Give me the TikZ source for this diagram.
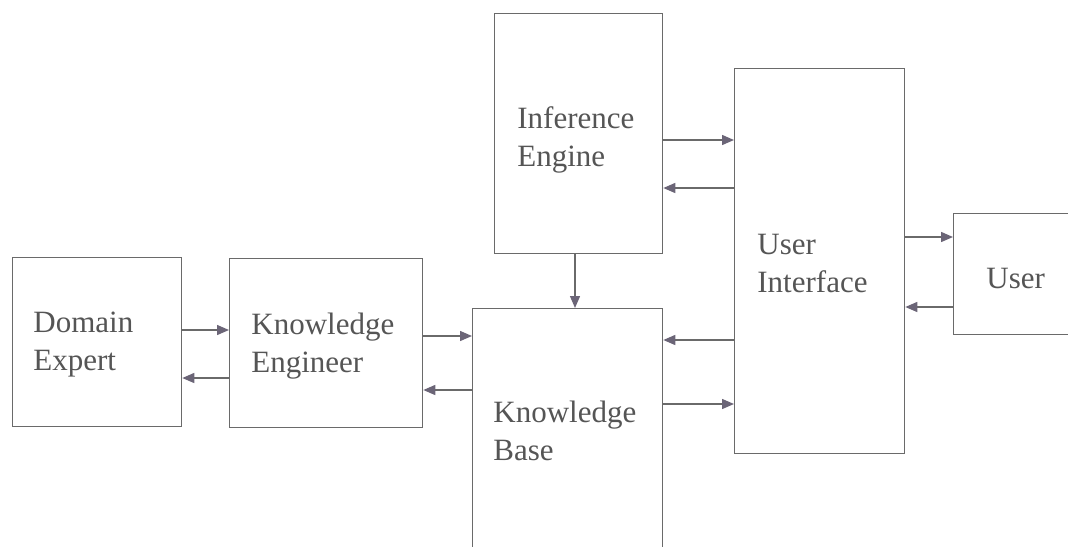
\documentclass[tikz,border=0pt]{standalone}
\usepackage{fontspec}
\setmainfont{Liberation Serif}
\usetikzlibrary{arrows.meta}
\definecolor{linec}{HTML}{6A6A6A}
\definecolor{textc}{HTML}{555555}
\definecolor{tipc}{HTML}{6B6577}
\tikzset{
  blk/.style={draw=linec, line width=0.65pt, fill=none, inner sep=0pt, anchor=north west},
  lbl/.style={text=textc, font=\fontsize{15.5}{19}\selectfont, align=left, inner sep=0pt, anchor=north west},
  arr/.style={draw=linec, line width=0.7pt, -{Triangle[length=6pt,width=5pt,fill=tipc,color=tipc]}}
}
\begin{document}
\begin{tikzpicture}[x=0.5pt,y=-0.5pt]
\useasboundingbox (0,0) rectangle (1068,546);
\clip (0,0) rectangle (1068,546);
% boxes
\node[blk, minimum width=84.5pt, minimum height=84.5pt] (de) at (12,257) {};
\node[blk, minimum width=96.5pt, minimum height=84.5pt] (ke) at (229,258) {};
\node[blk, minimum width=84pt, minimum height=120pt] (ie) at (494,13) {};
\node[blk, minimum width=95pt, minimum height=130pt] (kb) at (472,308) {};
\node[blk, minimum width=85pt, minimum height=192.5pt] (ui) at (734,68) {};
\node[blk, minimum width=70pt, minimum height=60.5pt] (us) at (953,213) {};
% labels
\node[lbl] (de-l) at (33,312) {Domain\\Expert};
\node[lbl] (ke-l) at (251,313) {Knowledge\\Engineer};
\node[lbl] (ie-l) at (517,106) {Inference\\Engine};
\node[lbl] (kb-l) at (493,401) {Knowledge\\Base};
\node[lbl] (ui-l) at (757,234) {User\\Interface};
\node[lbl] (us-l) at (986,268) {User};
% helper coordinates
\coordinate (y330) at (0,330);
\coordinate (y378) at (0,378);
\coordinate (y336) at (0,336);
\coordinate (y390) at (0,390);
\coordinate (y140) at (0,140);
\coordinate (y188) at (0,188);
\coordinate (y340) at (0,340);
\coordinate (y404) at (0,404);
\coordinate (y237) at (0,237);
\coordinate (y307) at (0,307);
\coordinate (x575) at (575,0);
% arrows
\draw[arr] (de.east |- y330) -- (ke.west |- y330);
\draw[arr] (ke.west |- y378) -- (de.east |- y378);
\draw[arr] (ke.east |- y336) -- (kb.west |- y336);
\draw[arr] (kb.west |- y390) -- (ke.east |- y390);
\draw[arr] (x575 |- ie.south) -- (x575 |- kb.north);
\draw[arr] (ie.east |- y140) -- (ui.west |- y140);
\draw[arr] (ui.west |- y188) -- (ie.east |- y188);
\draw[arr] (ui.west |- y340) -- (kb.east |- y340);
\draw[arr] (kb.east |- y404) -- (ui.west |- y404);
\draw[arr] (ui.east |- y237) -- (us.west |- y237);
\draw[arr] (us.west |- y307) -- (ui.east |- y307);
\end{tikzpicture}
\end{document}
